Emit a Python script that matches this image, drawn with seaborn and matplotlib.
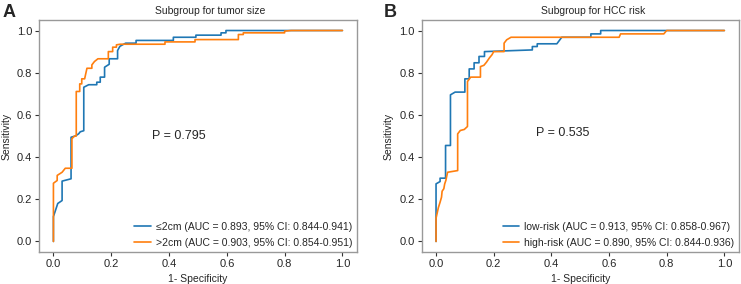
import pandas as pd
import matplotlib
matplotlib.use('Agg')
import matplotlib.pyplot as plt
import seaborn as sns

# ROC 曲线数据
# A: tumor size
fpr_le2 = [0.0, 0.0, 0.015, 0.03, 0.03, 0.061, 0.061, 0.076, 0.087, 0.093, 0.105, 0.105, 0.122, 0.15, 0.15,
           0.162, 0.162, 0.177, 0.177, 0.193, 0.193, 0.222, 0.222, 0.23, 0.239, 0.25, 0.286, 0.286, 0.415,
           0.415, 0.493, 0.493, 0.58, 0.58, 0.597, 0.597, 1.0]
tpr_le2 = [0.0, 0.118, 0.18, 0.194, 0.286, 0.297, 0.494, 0.50, 0.51, 0.52, 0.525, 0.731, 0.743, 0.743, 0.755,
           0.755, 0.779, 0.779, 0.826, 0.84, 0.866, 0.866, 0.905, 0.925, 0.932, 0.94, 0.94, 0.953, 0.953,
           0.968, 0.968, 0.978, 0.978, 0.989, 0.989, 1.0, 1.0]
fpr_gt2 = [0.0, 0.0, 0.013, 0.013, 0.03, 0.041, 0.064, 0.064, 0.073, 0.079, 0.079, 0.091, 0.091, 0.098, 0.098,
           0.108, 0.116, 0.133, 0.133, 0.142, 0.154, 0.19, 0.19, 0.205, 0.205, 0.218, 0.218, 0.231, 0.386,
           0.386, 0.49, 0.49, 0.64, 0.64, 0.657, 0.657, 0.80, 0.80, 0.823, 1.0]
tpr_gt2 = [0.0, 0.276, 0.289, 0.313, 0.328, 0.347, 0.347, 0.487, 0.50, 0.50, 0.711, 0.711, 0.747, 0.747, 0.771,
           0.771, 0.821, 0.821, 0.837, 0.853, 0.866, 0.866, 0.90, 0.90, 0.921, 0.921, 0.932, 0.935, 0.935,
           0.946, 0.946, 0.957, 0.957, 0.981, 0.981, 0.989, 0.989, 0.997, 1.0, 1.0]

# B: HCC risk
fpr_low = [0.0, 0.0, 0.0, 0.014, 0.014, 0.033, 0.033, 0.05, 0.05, 0.066, 0.10, 0.10, 0.115, 0.115, 0.132,
           0.132, 0.149, 0.149, 0.168, 0.168, 0.334, 0.334, 0.351, 0.351, 0.419, 0.436, 0.537, 0.537, 0.571,
           0.571, 1.0]
tpr_low = [0.0, 0.092, 0.273, 0.284, 0.30, 0.30, 0.455, 0.455, 0.695, 0.708, 0.708, 0.771, 0.771, 0.818, 0.818,
           0.847, 0.847, 0.877, 0.877, 0.90, 0.908, 0.924, 0.924, 0.937, 0.937, 0.968, 0.968, 0.984, 0.984,
           1.0, 1.0]
fpr_high = [0.0, 0.0, 0.008, 0.014, 0.019, 0.021, 0.027, 0.03, 0.034, 0.04, 0.075, 0.075, 0.084, 0.098, 0.109,
            0.109, 0.12, 0.154, 0.154, 0.166, 0.175, 0.185, 0.194, 0.2, 0.236, 0.236, 0.245, 0.26, 0.635,
            0.64, 0.79, 0.80, 1.0]
tpr_high = [0.0, 0.11, 0.16, 0.186, 0.21, 0.238, 0.25, 0.273, 0.289, 0.328, 0.336, 0.51, 0.526, 0.531, 0.545,
            0.758, 0.779, 0.779, 0.829, 0.835, 0.85, 0.87, 0.885, 0.90, 0.90, 0.94, 0.956, 0.968, 0.968,
            0.984, 0.984, 1.0, 1.0]

labels_a = ['≤2cm (AUC = 0.893, 95% CI: 0.844-0.941)', '>2cm (AUC = 0.903, 95% CI: 0.854-0.951)']
labels_b = ['low-risk (AUC = 0.913, 95% CI: 0.858-0.967)', 'high-risk (AUC = 0.890, 95% CI: 0.844-0.936)']
titles = ['Subgroup for tumor size', 'Subgroup for HCC risk']
p_values = ['P = 0.795', 'P = 0.535']
panel_tags = ['A', 'B']

df_a = pd.concat([
    pd.DataFrame({'fpr': fpr_le2, 'tpr': tpr_le2, 'group': labels_a[0]}),
    pd.DataFrame({'fpr': fpr_gt2, 'tpr': tpr_gt2, 'group': labels_a[1]}),
])
df_b = pd.concat([
    pd.DataFrame({'fpr': fpr_low, 'tpr': tpr_low, 'group': labels_b[0]}),
    pd.DataFrame({'fpr': fpr_high, 'tpr': tpr_high, 'group': labels_b[1]}),
])

sns.set_style('ticks')
plt.rcParams['font.family'] = ['Liberation Sans', 'DejaVu Sans']
plt.rcParams['axes.unicode_minus'] = False

fig = plt.figure(figsize=(7.41, 2.84), dpi=100)
ax_a = fig.add_axes([0.0526, 0.1127, 0.429, 0.817])
ax_b = fig.add_axes([0.569, 0.1127, 0.428, 0.817])

palette = ['#1f77b4', '#ff7f0e']
p_pos = [(0.34, 0.50), (0.345, 0.515)]

for i, (ax, df, labels) in enumerate([(ax_a, df_a, labels_a), (ax_b, df_b, labels_b)]):
    sns.lineplot(data=df, x='fpr', y='tpr', hue='group', hue_order=labels, palette=palette,
                 sort=False, estimator=None, linewidth=1.2, ax=ax)
    ax.set_xlim(-0.05, 1.05)
    ax.set_ylim(-0.05, 1.05)
    ax.set_xticks([0, 0.2, 0.4, 0.6, 0.8, 1.0])
    ax.set_yticks([0, 0.2, 0.4, 0.6, 0.8, 1.0])
    ax.tick_params(labelsize=8, length=3, width=0.8, pad=2, color='#333333')
    for s in ax.spines.values():
        s.set_visible(True)
        s.set_color('#999999')
        s.set_linewidth(1.0)
    ax.set_xlabel('1- Specificity', fontsize=7.5, labelpad=4)
    ax.set_ylabel('Sensitivity', fontsize=7.5, labelpad=4)
    ax.set_title(titles[i], fontsize=7.5, x=0.54, pad=4)
    ax.text(p_pos[i][0], p_pos[i][1], p_values[i], fontsize=9, va='center', ha='left')
    ax.legend(loc='lower right', frameon=False, fontsize=7.5, handlelength=1.6,
              handletextpad=0.5, borderaxespad=0.0, labelspacing=0.55, title=None)

fig.text(0.003, 0.985, panel_tags[0], fontsize=13, fontweight='bold', va='top', ha='left')
fig.text(0.518, 0.985, panel_tags[1], fontsize=13, fontweight='bold', va='top', ha='left')

plt.savefig('out.png', dpi=100)
